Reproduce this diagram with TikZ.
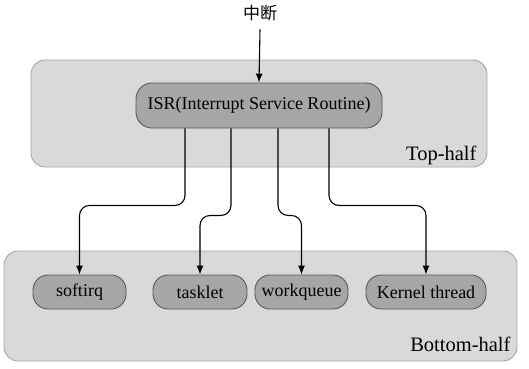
\documentclass[tikz,border=0pt]{standalone}
\usepackage{fontspec}
\setmainfont{Liberation Serif}
\newfontfamily\cjkfont{Noto Sans CJK SC}
\usetikzlibrary{arrows.meta}
\definecolor{panelfill}{HTML}{D9D9D9}
\definecolor{panelline}{HTML}{A6A6A6}
\definecolor{pillfill}{HTML}{A6A6A6}
\definecolor{pillline}{HTML}{595959}
\tikzset{
  panel/.style={fill=panelfill, draw=panelline, line width=0.9pt, rounded corners=14pt},
  pill/.style={fill=pillfill, draw=pillline, line width=0.9pt, rounded corners=15pt,
    minimum height=34pt, inner sep=0pt, font=\fontsize{18}{21}\selectfont},
  panellabel/.style={anchor=base east, font=\fontsize{20.5}{24}\selectfont},
  flow/.style={draw=black, line width=1.1pt, rounded corners=10pt,
    -{Latex[length=9pt,width=7pt]}}
}
\begin{document}
\begin{tikzpicture}[x=1pt,y=-1pt]
  \useasboundingbox (0,0) rectangle (529,368);
  % top-half and bottom-half panels
  \draw[panel] (31,60) rectangle (487,167);
  \draw[panel] (4,251) rectangle (517,361);
  \node[panellabel] (top) at (480,160) {Top-half};
  \node[panellabel] (bottom) at (514,351) {Bottom-half};
  % interrupt entry
  \node[font=\cjkfont\fontsize{17}{20}\selectfont] (irq) at (260,13) {中断};
  \node[pill, minimum width=246pt, rounded corners=16pt, minimum height=45pt] (isr) at (259,105.5) {ISR(Interrupt Service Routine)};
  % bottom-half mechanisms
  \node[pill, minimum width=93pt] (softirq) at (79.5,292) {softirq};
  \node[pill, minimum width=94pt] (tasklet) at (200,292) {tasklet};
  \node[pill, minimum width=93pt] (workqueue) at (301.5,292) {workqueue};
  \node[pill, minimum width=120pt] (kthread) at (426,292) {Kernel thread};
  % connectors
  \draw[flow, rounded corners=0pt] (irq.south) ++(0,5) -- (isr.north);
  \draw[flow] ([xshift=-74pt]isr.south) -- ++(0,77) -| (softirq.north);
  \draw[flow] ([xshift=-28pt]isr.south) -- ++(0,87) -| (tasklet.north);
  \draw[flow] ([xshift=19pt]isr.south) -- ++(0,87) -| (workqueue.north);
  \draw[flow] ([xshift=70pt]isr.south) -- ++(0,77) -| (kthread.north);
\end{tikzpicture}
\end{document}
